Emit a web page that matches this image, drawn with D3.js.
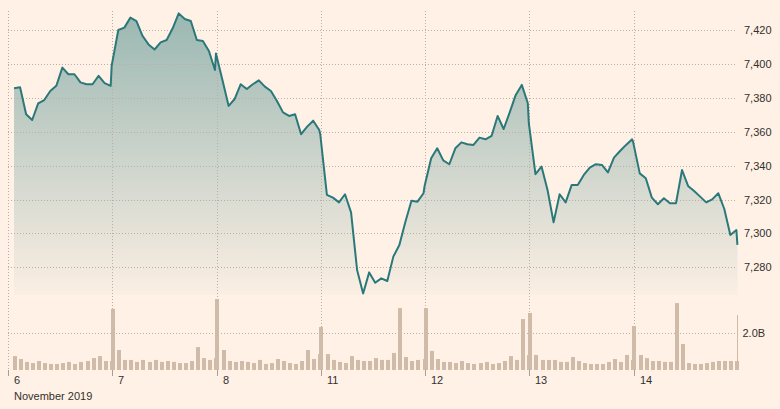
<!DOCTYPE html>
<html><head><meta charset="utf-8">
<script src="https://cdn.jsdelivr.net/npm/d3@7"></script>
<style>
html,body{margin:0;padding:0;background:#fff1e5;}
svg{display:block;font-family:"Liberation Sans",Arial,Helvetica,sans-serif;}
</style></head><body>
<svg id="chart" width="780" height="409"></svg>
<script>
// ---------- DATA ----------
const dayLabels = ["6","7","8","11","12","13","14"];
const monthLabel = "November 2019";
// half-hour sample times, minutes after 08:00
const slotMinutes = [30,60,90,120,150,180,210,240,270,300,330,360,390,420,450,480,510];
const closeMinute = 515;
const dayLengthMinutes = 518;
const priceTicks = [7280,7300,7320,7340,7360,7380,7400,7420];
const volumeTicks = [2.0];

const price6  = [7385.6,7386.2,7370.3,7366.9,7376.7,7378.7,7384.0,7387.1,7397.8,7393.9,7393.9,7389.1,7388.0,7388.0,7393.0,7388.7,7387.0];
const price7  = [7420.0,7421.4,7427.3,7425.3,7416.6,7411.5,7408.5,7412.7,7414.1,7421.0,7429.8,7426.5,7425.3,7414.1,7413.5,7407.6,7396.4];
const price8  = [7390.0,7375.2,7379.3,7388.0,7385.2,7388.0,7390.3,7386.6,7384.0,7378.1,7371.4,7369.3,7370.3,7358.5,7363.0,7366.5,7361.0];
const price11 = [7322.7,7321.1,7318.3,7323.1,7312.4,7278.4,7264.6,7277.0,7270.9,7273.5,7271.9,7286.3,7293.2,7306.9,7319.3,7318.7,7323.7];
const price12 = [7344.3,7350.2,7343.1,7340.8,7350.2,7353.7,7352.6,7352.2,7356.5,7355.5,7357.5,7369.3,7361.6,7371.4,7381.7,7387.6,7376.8];
const price13 = [7334.9,7339.4,7325.6,7306.5,7323.1,7318.3,7328.6,7328.6,7334.5,7338.8,7340.8,7340.4,7336.0,7344.7,7348.6,7352.2,7355.5];
const price14 = [7335.4,7332.5,7321.1,7317.2,7320.7,7317.8,7317.8,7337.4,7328.0,7325.0,7321.7,7318.3,7320.1,7323.7,7314.4,7299.1,7302.0];
const closePrices = [7399.0,7406.2,7358.5,7327.8,7365.0,7354.0,7293.2];

// volume, billions of shares
const vol6  = [0.76,0.60,0.44,0.38,0.49,0.38,0.33,0.33,0.38,0.44,0.33,0.44,0.49,0.65,0.76,0.49,0.49];
const vol7  = [1.09,0.55,0.55,0.44,0.55,0.44,0.55,0.44,0.49,0.44,0.38,0.38,0.49,1.25,0.65,0.55,0.65];
const vol8  = [1.09,0.49,0.44,0.49,0.44,0.38,0.55,0.33,0.38,0.60,0.49,0.38,0.33,0.49,1.09,0.60,0.87];
const vol11 = [0.87,0.55,0.44,0.38,0.76,0.55,0.49,0.49,0.65,0.55,0.55,0.93,3.38,0.71,0.49,0.55,0.60];
const vol12 = [1.04,0.60,0.44,0.44,0.38,0.49,0.38,0.33,0.38,0.44,0.33,0.38,0.49,0.76,0.55,2.78,0.82];
const vol13 = [0.82,0.55,0.55,0.55,0.44,0.44,0.71,0.49,0.38,0.33,0.33,0.33,0.44,0.60,0.44,0.82,0.55];
const vol14 = [0.82,0.65,0.49,0.49,0.44,0.44,3.65,1.42,0.38,0.33,0.33,0.38,0.44,0.49,0.49,0.49,0.49];
const closeAuctionVolumes = [3.33,3.87,2.35,3.38,3.11,2.40,null];

// ---------- BUILD ----------
const priceDays = [price6,price7,price8,price11,price12,price13,price14];
const volDays = [vol6,vol7,vol8,vol11,vol12,vol13,vol14];

const pricePts = [];
priceDays.forEach((arr,d)=>{
  arr.forEach((v,k)=>pricePts.push({t:d*dayLengthMinutes+slotMinutes[k], v}));
  pricePts.push({t:d*dayLengthMinutes+closeMinute, v:closePrices[d]});
});
const volPts = [];
volDays.forEach((arr,d)=>{
  arr.forEach((v,k)=>volPts.push({t:d*dayLengthMinutes+slotMinutes[k], v}));
  if (closeAuctionVolumes[d]!=null) volPts.push({t:d*dayLengthMinutes+closeMinute, v:closeAuctionVolumes[d]});
});

const svg = d3.select("#chart");
const bg = "#fff1e5";
svg.append("rect").attr("width",780).attr("height",409).attr("fill",bg);

const x = d3.scaleLinear().domain([0, dayLabels.length*dayLengthMinutes]).range([8,738]);
const y = d3.scaleLinear().domain([7280,7420]).range([267.3,30]);
const yv = d3.scaleLinear().domain([0,3]).range([370,315]);

const lineColor = "#2b787a";
const gridColor = "#b9afa6";

// gradient
const defs = svg.append("defs");
const grad = defs.append("linearGradient").attr("id","areaGrad")
  .attr("gradientUnits","userSpaceOnUse").attr("x1",0).attr("y1",10).attr("x2",0).attr("y2",295);
grad.append("stop").attr("offset","0").attr("stop-color",lineColor).attr("stop-opacity",0.48);
grad.append("stop").attr("offset","1").attr("stop-color",lineColor).attr("stop-opacity",0.02);

// area
const area = d3.area().x(d=>x(d.t)).y0(295).y1(d=>y(d.v));
svg.append("path").datum(pricePts).attr("d",area).attr("fill","url(#areaGrad)");

// horizontal price gridlines
svg.append("g").selectAll("line").data(priceTicks).join("line")
  .attr("x1",8).attr("x2",736)
  .attr("y1",d=>Math.round(y(d))+0.5).attr("y2",d=>Math.round(y(d))+0.5)
  .attr("stroke",gridColor).attr("stroke-dasharray","1,2");

// volume gridline
svg.append("g").selectAll("line").data(volumeTicks).join("line")
  .attr("x1",8).attr("x2",736)
  .attr("y1",d=>Math.round(yv(d))+0.5).attr("y2",d=>Math.round(yv(d))+0.5)
  .attr("stroke",gridColor).attr("stroke-dasharray","1,2");

// vertical day gridlines
const dayStarts = dayLabels.map((_,i)=>i*dayLengthMinutes);
svg.append("g").selectAll("line").data(dayStarts).join("line")
  .attr("x1",d=>Math.round(x(d))+0.5).attr("x2",d=>Math.round(x(d))+0.5)
  .attr("y1",11).attr("y2",370)
  .attr("stroke",gridColor).attr("stroke-dasharray","1,2");

// volume bars
svg.append("g").selectAll("rect").data(volPts).join("rect")
  .attr("x",d=>Math.round(x(d.t)-1)).attr("width",4)
  .attr("y",d=>yv(d.v)).attr("height",d=>yv(0)-yv(d.v))
  .attr("fill","#cfbba8");

// volume axis (right)
const vAxis = d3.axisRight(yv).tickValues(volumeTicks).tickSize(0).tickPadding(5)
  .tickFormat(d=>d.toFixed(1)+"B");
const gv = svg.append("g").attr("transform","translate(737.5,0)").call(vAxis);
gv.select(".domain").attr("stroke","#cfbba8").attr("d","M0,315V370");
gv.selectAll("text").attr("font-size",11).attr("fill","#33302e").attr("font-family","Liberation Sans, Arial, sans-serif");

// price axis (right)
const pAxis = d3.axisRight(y).tickValues(priceTicks).tickSize(0).tickPadding(6)
  .tickFormat(d3.format(","));
const gp = svg.append("g").attr("transform","translate(738,0)").call(pAxis);
gp.select(".domain").remove();
gp.selectAll("text").attr("font-size",11).attr("fill","#33302e").attr("font-family","Liberation Sans, Arial, sans-serif");

// x axis
const xAxis = d3.axisBottom(x).tickValues(dayStarts).tickSize(6).tickPadding(0)
  .tickFormat((d,i)=>dayLabels[i]);
const gx = svg.append("g").attr("transform","translate(0.5,370)").call(xAxis);
gx.select(".domain").remove();
gx.selectAll(".tick").attr("transform",d=>`translate(${Math.round(x(d))},0)`);
gx.selectAll("line").attr("stroke","#a79e96");
gx.selectAll("text").attr("font-size",11).attr("fill","#33302e")
  .attr("font-family","Liberation Sans, Arial, sans-serif")
  .attr("text-anchor","start").attr("x",5.5).attr("y",14).attr("dy",0);

svg.append("text").attr("x",14).attr("y",400).attr("font-size",11).attr("fill","#33302e")
  .text(monthLabel);

// price line
const line = d3.line().x(d=>x(d.t)).y(d=>y(d.v));
svg.append("path").datum(pricePts).attr("d",line).attr("fill","none")
  .attr("stroke",lineColor).attr("stroke-width",2).attr("stroke-linejoin","round");
</script>
</body></html>
